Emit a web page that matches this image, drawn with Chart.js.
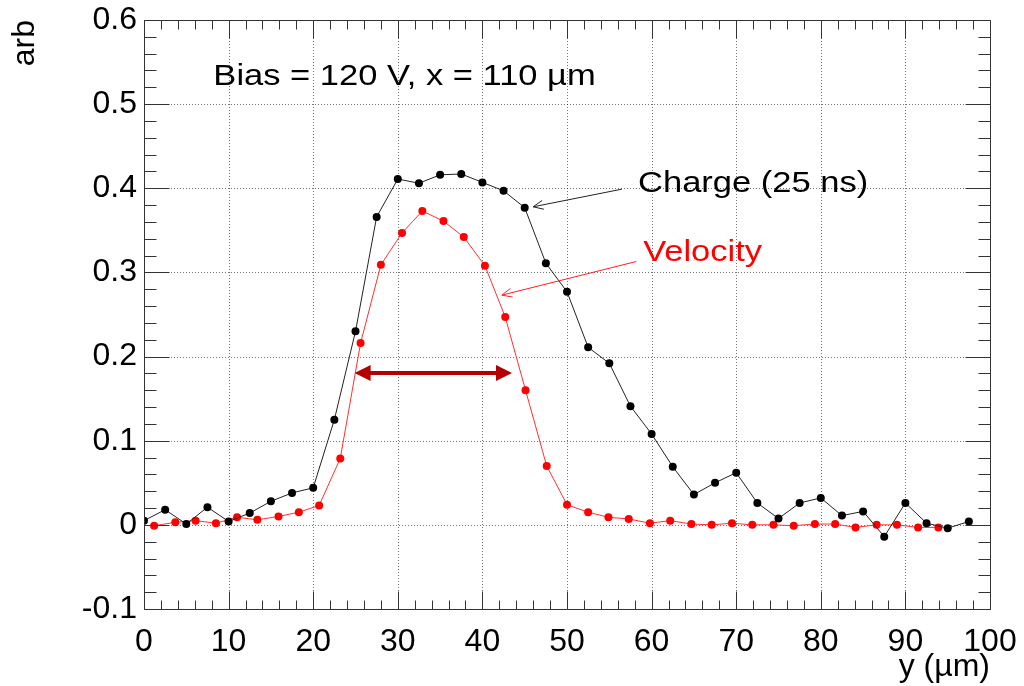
<!DOCTYPE html>
<html>
<head>
<meta charset="utf-8">
<script src="https://cdn.jsdelivr.net/npm/chart.js@4"></script>
<style>
  html, body { margin: 0; padding: 0; background: #fff; }
  #wrap { width: 1024px; height: 686px; }
</style>
</head>
<body>
<div id="wrap"><canvas id="c" width="1024" height="686"></canvas></div>
<script>
// Charge (25 ns) profile, black
const chargeX = [0, 2.5, 5, 7.5, 10, 12.5, 15, 17.5, 20, 22.5, 25, 27.5, 30, 32.5, 35, 37.5, 40, 42.5, 45, 47.5,
  50, 52.5, 55, 57.5, 60, 62.5, 65, 67.5, 70, 72.5, 75, 77.5, 80, 82.5, 85, 87.5, 90, 92.5, 95, 97.5];
const chargeY = [0.005, 0.018, 0.001, 0.021, 0.004, 0.014, 0.028, 0.038, 0.044, 0.125, 0.230, 0.366, 0.411, 0.406,
  0.416, 0.417, 0.407, 0.397, 0.377, 0.311, 0.277, 0.211, 0.192, 0.141, 0.108, 0.069, 0.036, 0.050, 0.062, 0.026,
  0.0075, 0.026, 0.032, 0.011, 0.016, -0.014, 0.026, 0.002, -0.004, 0.004];

// Velocity profile, red
const velocityX = [1.2, 3.7, 6.1, 8.5, 11.0, 13.4, 15.9, 18.3, 20.7, 23.2, 25.6, 28.0, 30.5, 32.9, 35.4, 37.8, 40.3,
  42.7, 45.1, 47.6, 50.0, 52.5, 54.9, 57.3, 59.8, 62.2, 64.7, 67.1, 69.5, 71.9, 74.4, 76.8, 79.3, 81.7, 84.1, 86.6,
  89.0, 91.5, 93.9];
const velocityY = [-0.001, 0.003, 0.005, 0.002, 0.009, 0.006, 0.010, 0.015, 0.023, 0.079, 0.216, 0.309, 0.347, 0.373,
  0.361, 0.342, 0.308, 0.247, 0.160, 0.070, 0.024, 0.015, 0.009, 0.007, 0.002, 0.005, 0.001, 0.000, 0.002, 0.000,
  0.000, -0.001, 0.001, 0.001, -0.003, 0.000, 0.000, -0.003, -0.003];

// Axis ticks
const xTicks = [0, 10, 20, 30, 40, 50, 60, 70, 80, 90, 100];
const yTicks = [-0.1, 0, 0.1, 0.2, 0.3, 0.4, 0.5, 0.6];

// Annotation texts and anchors (data coordinates)
const biasLabel = { text: 'Bias = 120 V, x = 110 \u00b5m', x: 8.2, y: 0.523, color: '#000' };
const chargeLabel = { text: 'Charge (25 ns)', x: 58.4, y: 0.395, color: '#000' };
const velocityLabel = { text: 'Velocity', x: 59.0, y: 0.313, color: '#ff0000' };
const chargeArrow = { from: [56.5, 0.399], to: [46.0, 0.378], color: '#222' };
const velocityArrow = { from: [58.2, 0.313], to: [42.3, 0.273], color: '#ff2020' };
const widthArrow = { from: [24.9, 0.180], to: [43.5, 0.180], color: '#b40000' };

const FONT = '"Liberation Sans", Arial, Helvetica, sans-serif';
const STRETCH = 1.15;

function toPoints(xs, ys) {
  return xs.map((x, i) => ({ x: x, y: ys[i] }));
}

function drawStretchedText(ctx, str, x, y, color, size) {
  ctx.save();
  ctx.translate(x, y);
  ctx.scale(STRETCH, 1);
  ctx.font = size + 'px ' + FONT;
  ctx.fillStyle = color;
  ctx.textBaseline = 'alphabetic';
  ctx.textAlign = 'left';
  ctx.fillText(str, 0, 0);
  ctx.restore();
}

function drawOpenArrow(ctx, x1, y1, x2, y2, color) {
  const ang = Math.atan2(y2 - y1, x2 - x1);
  const len = 11, spread = 0.42;
  ctx.save();
  ctx.strokeStyle = color;
  ctx.lineWidth = 1;
  ctx.beginPath();
  ctx.moveTo(x1, y1);
  ctx.lineTo(x2, y2);
  ctx.moveTo(x2 - len * Math.cos(ang - spread), y2 - len * Math.sin(ang - spread));
  ctx.lineTo(x2, y2);
  ctx.lineTo(x2 - len * Math.cos(ang + spread), y2 - len * Math.sin(ang + spread));
  ctx.stroke();
  ctx.restore();
}

function drawDoubleArrow(ctx, x1, y, x2, color) {
  const head = 16, half = 8;
  ctx.save();
  ctx.strokeStyle = color;
  ctx.fillStyle = color;
  ctx.lineWidth = 4;
  ctx.beginPath();
  ctx.moveTo(x1 + head - 2, y);
  ctx.lineTo(x2 - head + 2, y);
  ctx.stroke();
  ctx.beginPath();
  ctx.moveTo(x1, y);
  ctx.lineTo(x1 + head, y - half);
  ctx.lineTo(x1 + head, y + half);
  ctx.closePath();
  ctx.fill();
  ctx.beginPath();
  ctx.moveTo(x2, y);
  ctx.lineTo(x2 - head, y - half);
  ctx.lineTo(x2 - head, y + half);
  ctx.closePath();
  ctx.fill();
  ctx.restore();
}

// ROOT-like frame: dotted grid, ticks on all four sides, annotations
const rootFrame = {
  id: 'rootFrame',
  beforeDatasetsDraw(chart) {
    const { ctx, chartArea: a, scales: { x, y } } = chart;
    ctx.save();
    ctx.strokeStyle = 'rgba(0,0,0,0.55)';
    ctx.lineWidth = 1;
    ctx.setLineDash([1, 2]);
    ctx.beginPath();
    xTicks.forEach(v => {
      const px = Math.round(x.getPixelForValue(v)) + 0.5;
      if (px > a.left + 2 && px < a.right - 2) {
        ctx.moveTo(px, a.top);
        ctx.lineTo(px, a.bottom);
      }
    });
    yTicks.forEach(v => {
      const py = Math.round(y.getPixelForValue(v)) + 0.5;
      if (py > a.top + 2 && py < a.bottom - 2) {
        ctx.moveTo(a.left, py);
        ctx.lineTo(a.right, py);
      }
    });
    ctx.stroke();
    ctx.restore();
  },
  afterDatasetsDraw(chart) {
    const { ctx, chartArea: a, scales: { x, y } } = chart;
    const L = Math.round(a.left) + 0.5, R = Math.round(a.right) + 0.5;
    const T = Math.round(a.top) + 0.5, B = Math.round(a.bottom) + 0.5;
    ctx.save();
    ctx.strokeStyle = '#333';
    ctx.lineWidth = 1;
    ctx.beginPath();
    ctx.rect(L, T, R - L, B - T);
    // x ticks: major 18px, minor 9px (every 2 units)
    for (let v = 0; v <= 100; v += 2) {
      const px = Math.round(x.getPixelForValue(v)) + 0.5;
      const len = v % 10 === 0 ? 18 : 9;
      ctx.moveTo(px, B); ctx.lineTo(px, B - len);
      ctx.moveTo(px, T); ctx.lineTo(px, T + len);
    }
    // y ticks: major 25px, minor 12px (every 0.02)
    for (let i = -5; i <= 30; i++) {
      const py = Math.round(y.getPixelForValue(i * 0.02)) + 0.5;
      const len = i % 5 === 0 ? 25 : 12;
      ctx.moveTo(L, py); ctx.lineTo(L + len, py);
      ctx.moveTo(R, py); ctx.lineTo(R - len, py);
    }
    ctx.stroke();
    ctx.restore();

    // annotations
    [biasLabel, chargeLabel, velocityLabel].forEach(t => {
      drawStretchedText(ctx, t.text, x.getPixelForValue(t.x), y.getPixelForValue(t.y), t.color, 30);
    });
    [chargeArrow, velocityArrow].forEach(ar => {
      drawOpenArrow(ctx,
        x.getPixelForValue(ar.from[0]), y.getPixelForValue(ar.from[1]),
        x.getPixelForValue(ar.to[0]), y.getPixelForValue(ar.to[1]), ar.color);
    });
    drawDoubleArrow(ctx,
      x.getPixelForValue(widthArrow.from[0]), Math.round(y.getPixelForValue(widthArrow.from[1])),
      x.getPixelForValue(widthArrow.to[0]), widthArrow.color);
  }
};

const tickFont = { family: FONT, size: 32 };

new Chart(document.getElementById('c'), {
  type: 'line',
  data: {
    datasets: [
      {
        label: 'Charge (25 ns)',
        data: toPoints(chargeX, chargeY),
        borderColor: '#222',
        backgroundColor: '#000',
        borderWidth: 1,
        pointRadius: 4,
        pointBorderWidth: 0,
        pointBackgroundColor: '#000',
        tension: 0
      },
      {
        label: 'Velocity',
        data: toPoints(velocityX, velocityY),
        borderColor: '#ff3030',
        backgroundColor: '#ff0000',
        borderWidth: 1,
        pointRadius: 4,
        pointBorderWidth: 0,
        pointBackgroundColor: '#ff0000',
        tension: 0
      }
    ]
  },
  options: {
    responsive: false,
    animation: false,
    devicePixelRatio: 1,
    layout: { padding: { left: 0, top: 20, right: 34, bottom: 0 } },
    plugins: {
      legend: { display: false },
      tooltip: { enabled: false }
    },
    scales: {
      x: {
        type: 'linear',
        min: 0,
        max: 100,
        afterBuildTicks: s => { s.ticks = xTicks.map(v => ({ value: v })); },
        afterFit: s => { s.height = 77; s.paddingLeft = 0; s.paddingRight = 0; },
        grid: { display: false, drawTicks: false },
        border: { display: false },
        ticks: {
          font: tickFont,
          color: '#000',
          padding: 14,
          maxRotation: 0,
          autoSkip: false,
          callback: v => String(v)
        },
        title: {
          display: true,
          text: 'y (\u00b5m)',
          align: 'end',
          color: '#000',
          font: tickFont,
          padding: { top: 0, bottom: 0 }
        }
      },
      y: {
        type: 'linear',
        min: -0.1,
        max: 0.6,
        afterBuildTicks: s => { s.ticks = yTicks.map(v => ({ value: v })); },
        afterFit: s => { s.width = 144; s.paddingTop = 0; s.paddingBottom = 0; },
        grid: { display: false, drawTicks: false },
        border: { display: false },
        ticks: {
          font: tickFont,
          color: '#000',
          padding: 7,
          autoSkip: false,
          callback: v => (Math.abs(v) < 1e-9 ? '0' : v.toFixed(1))
        },
        title: {
          display: true,
          text: 'arb',
          align: 'end',
          color: '#000',
          font: tickFont,
          padding: { top: 6, bottom: 0 }
        }
      }
    }
  },
  plugins: [rootFrame]
});
</script>
</body>
</html>
